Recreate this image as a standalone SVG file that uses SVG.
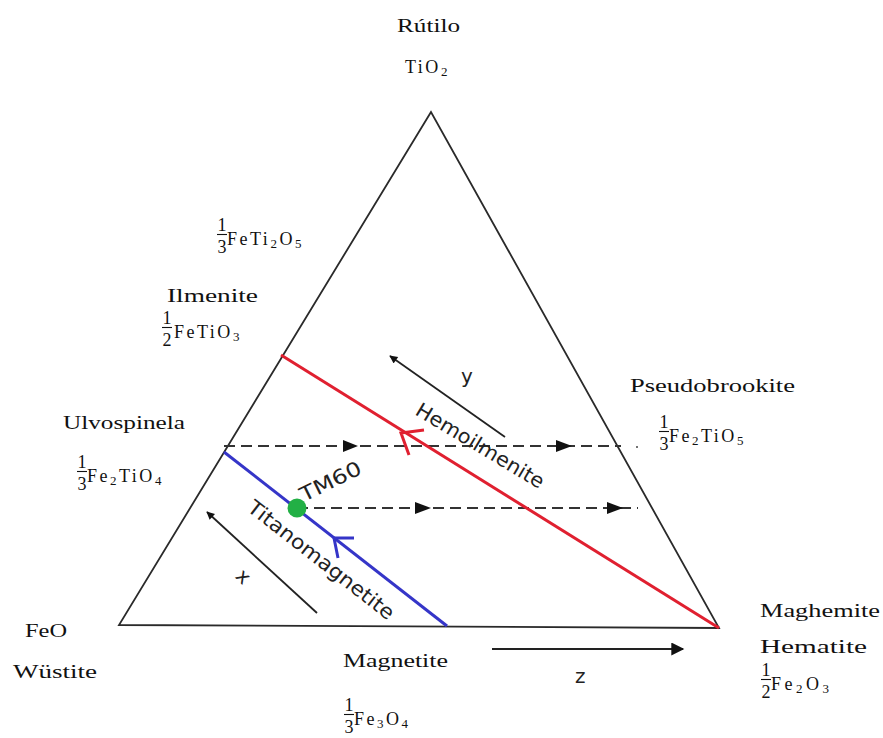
<svg xmlns="http://www.w3.org/2000/svg" width="883" height="738" viewBox="0 0 883 738">
<defs>
<style>
.lbl{font-family:"Liberation Serif","DejaVu Serif",serif;font-size:19px;fill:#111}
.frm{font-family:"Liberation Serif","DejaVu Serif",serif;font-size:18px;fill:#111;letter-spacing:2.5px}
.fd{font-family:"Liberation Serif","DejaVu Serif",serif;font-size:18px;fill:#111;text-anchor:middle}
.sub{font-size:13px}
.hand{font-family:"DejaVu Sans","Open Sans",sans-serif;font-size:20px;fill:#222}
.edge{stroke:#2a2a2a;stroke-width:1.8;fill:none}
.dash{stroke:#333;stroke-width:2;stroke-dasharray:11 6;fill:none}
.arr{stroke:#222;stroke-width:1.8;fill:none}
.bar{stroke:#111;stroke-width:1.1}
</style>
<marker id="ah" viewBox="0 0 10 10" refX="9" refY="5" markerWidth="10" markerHeight="8" markerUnits="userSpaceOnUse" orient="auto">
<path d="M0,0 L10,5 L0,10 z" fill="#111"/>
</marker>
<marker id="ahz" viewBox="0 0 10 10" refX="9" refY="5" markerWidth="20" markerHeight="13" markerUnits="userSpaceOnUse" orient="auto">
<path d="M0,0 L10,5 L0,10 z" fill="#111"/>
</marker>
</defs>
<rect width="883" height="738" fill="#fff"/>

<g id="triangle">
<path class="edge" d="M431,112 L119,625 L719,628 Z"/>
</g>

<g id="connectors">
<line class="dash" x1="224" y1="446" x2="621" y2="446"/>
<line class="dash" x1="297" y1="508" x2="638" y2="508"/>
<path d="M343,440 L358,446 L343,452 Z" fill="#111"/>
<path d="M556,440 L572,446 L556,452 Z" fill="#111"/>
<path d="M415,502 L431,508 L415,514 Z" fill="#111"/>
<path d="M607,502 L623,508 L607,514 Z" fill="#111"/>
<circle cx="637" cy="447" r="1" fill="#444"/>
<line x1="281" y1="355" x2="719" y2="628" stroke="#e02030" stroke-width="3"/>
<path d="M424,430 L401,433 L409,455" stroke="#e02030" stroke-width="3" fill="none"/>
<line x1="224" y1="452" x2="447" y2="626" stroke="#3535c8" stroke-width="3"/>
<path d="M354,538 L334,538 L338,558" stroke="#3535c8" stroke-width="3" fill="none"/>
<line class="arr" x1="505" y1="437" x2="390" y2="356" marker-end="url(#ah)"/>
<line class="arr" x1="317" y1="613" x2="207" y2="512" marker-end="url(#ah)"/>
<line x1="492" y1="649" x2="683" y2="649" stroke="#222" stroke-width="2.2" marker-end="url(#ahz)"/>
</g>

<g id="tm60">
<circle cx="297" cy="508" r="9.5" fill="#22b045"/>
<text class="hand" transform="translate(304,502) rotate(-26)" textLength="66" lengthAdjust="spacingAndGlyphs">TM60</text>
</g>

<g id="line-labels">
<text class="hand" transform="translate(246,510) rotate(38)" textLength="180" lengthAdjust="spacingAndGlyphs">Titanomagnetite</text>
<text class="hand" transform="translate(414,414) rotate(31)" textLength="146" lengthAdjust="spacingAndGlyphs">Hemoilmenite</text>
<text class="hand" x="461" y="383">y</text>
<text class="hand" transform="translate(243,577) rotate(45)" text-anchor="middle" x="0" y="6">x</text>
<text class="hand" x="575" y="683">z</text>
</g>

<g id="rutilo">
<text class="lbl" x="397" y="32" textLength="63" lengthAdjust="spacingAndGlyphs">Rútilo</text>
<text class="frm" x="405" y="73">TiO<tspan class="sub" dy="3">2</tspan></text>
</g>

<g id="feti2o5">
<text class="fd" x="222" y="231">1</text>
<line class="bar" x1="217" y1="234.5" x2="227" y2="234.5"/>
<text class="fd" x="222" y="253">3</text>
<text class="frm" x="227" y="245">FeTi<tspan class="sub" dy="3">2</tspan><tspan dy="-3">O</tspan><tspan class="sub" dy="3">5</tspan></text>
</g>

<g id="ilmenite">
<text class="lbl" x="167" y="302" textLength="91" lengthAdjust="spacingAndGlyphs">Ilmenite</text>
<text class="fd" x="167" y="324">1</text>
<line class="bar" x1="162" y1="327.5" x2="172" y2="327.5"/>
<text class="fd" x="167" y="346">2</text>
<text class="frm" x="174" y="338">FeTiO<tspan class="sub" dy="3">3</tspan></text>
</g>

<g id="ulvospinela">
<text class="lbl" x="63" y="429" textLength="122" lengthAdjust="spacingAndGlyphs">Ulvospinela</text>
<text class="fd" x="82" y="468">1</text>
<line class="bar" x1="77" y1="471.5" x2="87" y2="471.5"/>
<text class="fd" x="82" y="490">3</text>
<text class="frm" x="87" y="482">Fe<tspan class="sub" dy="3">2</tspan><tspan dy="-3">TiO</tspan><tspan class="sub" dy="3">4</tspan></text>
</g>

<g id="pseudobrookite">
<text class="lbl" x="630" y="392" textLength="165" lengthAdjust="spacingAndGlyphs">Pseudobrookite</text>
<text class="fd" x="664" y="428">1</text>
<line class="bar" x1="659" y1="431.5" x2="669" y2="431.5"/>
<text class="fd" x="664" y="450">3</text>
<text class="frm" x="669" y="442">Fe<tspan class="sub" dy="3">2</tspan><tspan dy="-3">TiO</tspan><tspan class="sub" dy="3">5</tspan></text>
</g>

<g id="wustite">
<text class="lbl" x="25" y="637" textLength="42" lengthAdjust="spacingAndGlyphs">FeO</text>
<text class="lbl" x="13" y="678" textLength="84" lengthAdjust="spacingAndGlyphs">Wüstite</text>
</g>

<g id="magnetite">
<text class="lbl" x="343" y="667" textLength="105" lengthAdjust="spacingAndGlyphs">Magnetite</text>
<text class="fd" x="349" y="711">1</text>
<line class="bar" x1="344" y1="714.5" x2="354" y2="714.5"/>
<text class="fd" x="349" y="733">3</text>
<text class="frm" x="354" y="725">Fe<tspan class="sub" dy="3">3</tspan><tspan dy="-3">O</tspan><tspan class="sub" dy="3">4</tspan></text>
</g>

<g id="hematite">
<text class="lbl" x="760" y="617" textLength="120" lengthAdjust="spacingAndGlyphs">Maghemite</text>
<text class="lbl" x="760" y="653" textLength="107" lengthAdjust="spacingAndGlyphs">Hematite</text>
<text class="fd" x="766" y="676">1</text>
<line class="bar" x1="761" y1="679.5" x2="771" y2="679.5"/>
<text class="fd" x="766" y="698">2</text>
<text class="frm" x="771" y="690" style="letter-spacing:3.5px">Fe<tspan class="sub" dy="3">2</tspan><tspan dy="-3">O</tspan><tspan class="sub" dy="3">3</tspan></text>
</g>
</svg>
